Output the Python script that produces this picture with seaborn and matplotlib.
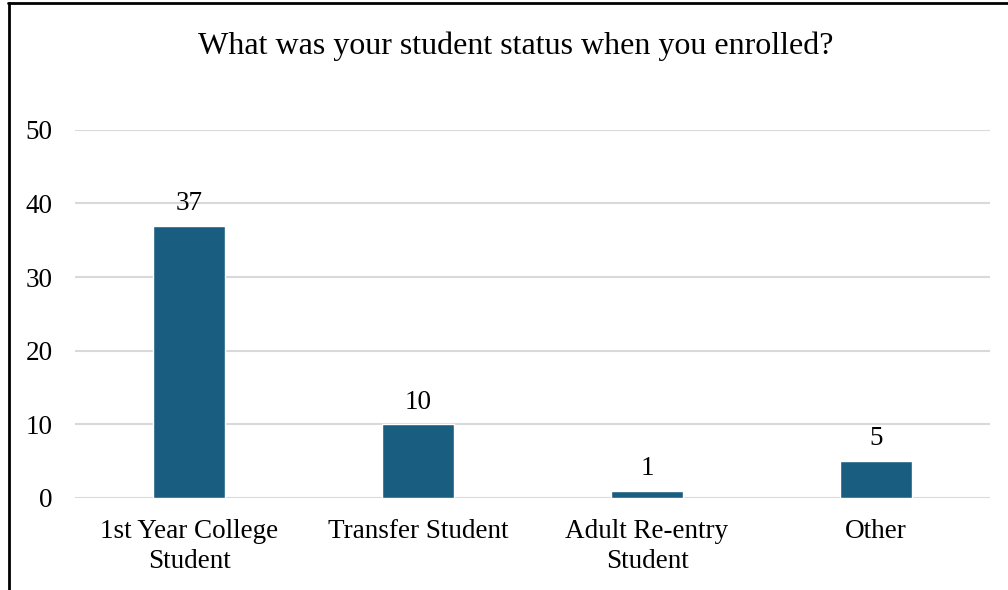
import matplotlib
matplotlib.use("Agg")
import matplotlib.pyplot as plt
from matplotlib.lines import Line2D
import pandas as pd
import seaborn as sns

# ── Data ──────────────────────────────────────────────────────────────────────
categories = ["1st Year College\nStudent", "Transfer Student",
              "Adult Re-entry\nStudent", "Other"]
counts = [37, 10, 1, 5]
y_ticks = [0, 10, 20, 30, 40, 50]

BAR_COLOR = "#195E80"
GRID_COLOR = "#D9D9D9"

sns.set_theme(style="white")
plt.rcParams["font.family"] = ["Liberation Serif", "DejaVu Serif"]
plt.rcParams["text.color"] = "black"
plt.rcParams["xtick.color"] = "black"
plt.rcParams["ytick.color"] = "black"

df = pd.DataFrame({"status": categories, "count": counts})

fig = plt.figure(figsize=(10.08, 5.90), dpi=100)
ax = fig.add_axes([0.0744, 0.156, 0.908, 0.624])

sns.barplot(data=df, x="status", y="count", color=BAR_COLOR,
            width=0.315, saturation=1, ax=ax)

ax.set_xlim(-0.5, 3.5)
ax.set_ylim(0, 50)
ax.set_yticks(y_ticks)
ax.yaxis.grid(True, color=GRID_COLOR, linewidth=1.5)
ax.set_axisbelow(True)
for s in ax.spines.values():
    s.set_visible(False)
ax.tick_params(axis="y", length=0, pad=16, labelsize=19.5)
ax.tick_params(axis="x", length=0, pad=15, labelsize=19.5)
for lbl in ax.get_xticklabels():
    lbl.set_linespacing(1.3)
ax.set_xlabel("")
ax.set_ylabel("")

for bar, val in zip(ax.patches, counts):
    ax.annotate(f"{val}", (bar.get_x() + bar.get_width() / 2, bar.get_height()),
                xytext=(0, 7), textcoords="offset points",
                ha="center", va="bottom", fontsize=19.5)

fig.text(0.512, 0.922, "What was your student status when you enrolled?",
         ha="center", va="center", fontsize=23)

# chart frame (top and left edges visible)
fig.add_artist(Line2D([0.008, 1.0], [0.995, 0.995], color="black", linewidth=2,
                      transform=fig.transFigure))
fig.add_artist(Line2D([0.009, 0.009], [0.0, 0.995], color="black", linewidth=2,
                      transform=fig.transFigure))

fig.savefig("out.png", dpi=100)
